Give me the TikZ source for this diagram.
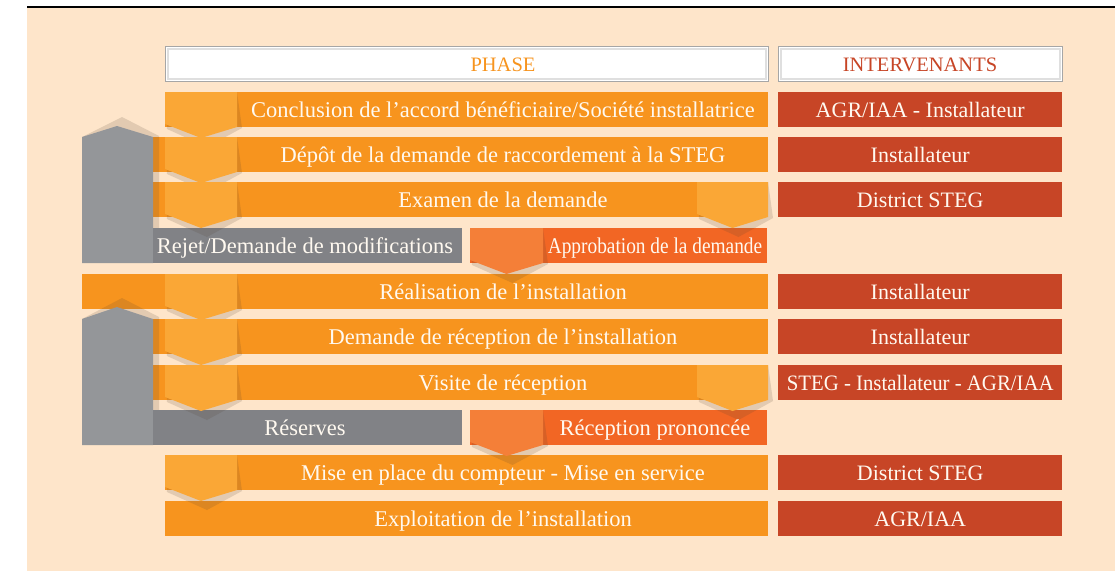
\documentclass[tikz,border=0pt]{standalone}
\usepackage{fontspec}
\setmainfont{Liberation Serif}
\usepackage{graphicx}
\definecolor{peach}{RGB}{254,229,202}
\definecolor{barorange}{RGB}{247,148,30}
\definecolor{chevorange}{RGB}{250,167,54}
\definecolor{apporange}{RGB}{242,102,36}
\definecolor{appchev}{RGB}{244,127,56}
\definecolor{redbox}{RGB}{199,69,38}
\definecolor{graybar}{RGB}{129,130,134}
\definecolor{graycol}{RGB}{148,150,153}
\definecolor{shadowc}{RGB}{80,65,50}
\definecolor{txtwhite}{RGB}{255,249,240}
\newcommand\mychev[5]{%
  \fill[shadowc,opacity=0.16] (#1,#3) -- (#2,#3) -- ({#2+5},{#4+1}) -- ({(#1+#2)/2+6},{#4+20}) -- ({#1+2},{#4+2}) -- cycle;
  \fill[#5] (#1,#3) -- (#2,#3) -- (#2,#4) -- ({(#1+#2)/2},{#4+11}) -- (#1,{#4-3}) -- cycle;}
\begin{document}
\begin{tikzpicture}[x=1pt,y=-1pt,
  bar/.style={fill=barorange,inner sep=0pt,minimum height=35pt,anchor=north west},
  rbox/.style={fill=redbox,inner sep=0pt,minimum height=35pt,minimum width=284pt,anchor=north west,
     text=txtwhite,font=\fontsize{22}{24}\selectfont,text height=17pt,text depth=1pt},
  gbar/.style={fill=graybar,inner sep=0pt,minimum height=35pt,minimum width=309pt,anchor=north west},
  abar/.style={fill=apporange,inner sep=0pt,minimum height=35pt,minimum width=297pt,anchor=north west},
  hbox/.style={fill=white,draw=gray!70,line width=1.4pt,inner sep=0pt,minimum height=35pt,anchor=north west},
  txt/.style={text=txtwhite,inner sep=0pt,font=\fontsize{22.5}{24}\selectfont,text height=17pt,text depth=1pt},
  htxt/.style={inner sep=0pt,font=\fontsize{20.5}{22}\selectfont,text height=18pt,text depth=3pt}]
\useasboundingbox (0,0) rectangle (1115,571);
% background
\fill[peach] (27,8) rectangle (1115,571);
\draw[line width=2.5pt] (27,7) -- (1115,7);
% header boxes
\node[hbox,minimum width=603pt] (hphase) at (165,46) {};
\node[hbox,minimum width=284pt] (hinter) at (778,46) {};
\draw[gray!25,line width=2pt] (167.5,48.5) rectangle (765.5,78.5);
\draw[gray!25,line width=2pt] (780.5,48.5) rectangle (1059.5,78.5);
\node[htxt,text=barorange] (tphase) at (503,63.5) {PHASE};
\node[htxt,text=redbox] (tinter) at (920,63.5) {INTERVENANTS};
% orange bars
\node[bar,minimum width=603pt] (b1) at (165,92) {};
\node[bar,minimum width=615pt] (b2) at (153,137) {};
\node[bar,minimum width=615pt] (b3) at (153,182) {};
\node[bar,minimum width=686pt] (b5) at (82,274) {};
\node[bar,minimum width=615pt] (b6) at (153,319) {};
\node[bar,minimum width=615pt] (b7) at (153,365) {};
\node[bar,minimum width=603pt] (b9) at (165,455) {};
\node[bar,minimum width=603pt] (b10) at (165,501) {};
% red boxes
\node[rbox] (r1) at (778,92) {AGR/IAA - Installateur};
\node[rbox] (r2) at (778,137) {Installateur};
\node[rbox] (r3) at (778,182) {District STEG};
\node[rbox] (r5) at (778,274) {Installateur};
\node[rbox] (r6) at (778,319) {Installateur};
\node[rbox] (r7) at (778,365) {\scalebox{0.945}[1]{STEG - Installateur - AGR/IAA}};
\node[rbox] (r9) at (778,455) {District STEG};
\node[rbox] (r10) at (778,501) {AGR/IAA};
% gray columns with shadows
\fill[shadowc,opacity=0.16] (82,137) -- (122,117) -- (159,136) -- (159,228) -- (82,228) -- cycle;
\fill[graycol] (82,263) -- (82,137) -- (117,126) -- (153,137) -- (153,263) -- cycle;
\fill[shadowc,opacity=0.16] (82,319) -- (122,298) -- (159,317) -- (159,410) -- (82,410) -- cycle;
\fill[graycol] (82,445) -- (82,319) -- (117,307) -- (153,319) -- (153,445) -- cycle;
% gray and red-orange bars
\node[gbar] (g1) at (153,228) {};
\node[abar] (a1) at (470,228) {};
\node[gbar] (g2) at (153,410) {};
\node[abar] (a2) at (470,410) {};
% chevrons
\mychev{165}{237}{92}{127}{chevorange}
\mychev{165}{237}{137}{172}{chevorange}
\mychev{165}{237}{182}{217}{chevorange}
\mychev{697}{768}{182}{217}{chevorange}
\mychev{470}{543}{228}{263}{appchev}
\mychev{165}{237}{274}{309}{chevorange}
\mychev{165}{237}{319}{354}{chevorange}
\mychev{165}{237}{365}{400}{chevorange}
\mychev{697}{768}{365}{400}{chevorange}
\mychev{470}{543}{410}{445}{appchev}
\mychev{165}{237}{455}{490}{chevorange}
% texts
\node[txt] (t1) at (503,109.5) {Conclusion de l’accord bénéficiaire/Société installatrice};
\node[txt] (t2) at (503,154.5) {Dépôt de la demande de raccordement à la STEG};
\node[txt] (t3) at (503,199.5) {Examen de la demande};
\node[txt] (t4) at (305,245.5) {Rejet/Demande de modifications};
\node[txt] (t4b) at (655,245.5) {\scalebox{0.86}[1]{Approbation de la demande}};
\node[txt] (t5) at (503,291.5) {Réalisation de l’installation};
\node[txt] (t6) at (503,336.5) {Demande de réception de l’installation};
\node[txt] (t7) at (503,382.5) {Visite de réception};
\node[txt] (t8) at (305,427.5) {Réserves};
\node[txt] (t8b) at (655,427.5) {Réception prononcée};
\node[txt] (t9) at (503,472.5) {Mise en place du compteur - Mise en service};
\node[txt] (t10) at (503,518.5) {Exploitation de l’installation};
\end{tikzpicture}
\end{document}
